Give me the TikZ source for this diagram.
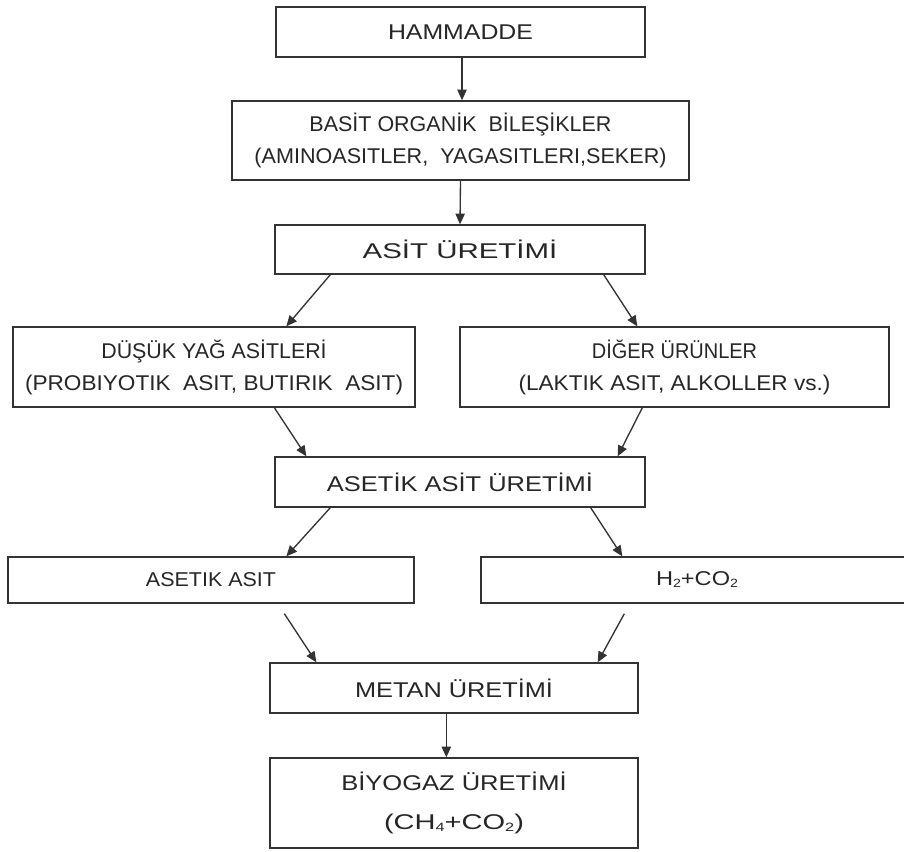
\documentclass[tikz,border=0pt]{standalone}
\usepackage{fontspec}
\setmainfont{Liberation Sans}
\usepackage{graphicx}
\usetikzlibrary{arrows.meta,calc}
\newcommand\fw[2]{\resizebox{#1}{\height}{#2}}
\newcommand\sub[1]{\raisebox{-1.5pt}{\fontsize{9}{9}\selectfont #1}}
\definecolor{edge}{HTML}{333333}
\definecolor{ink}{HTML}{262626}
\tikzset{
  box/.style={draw=edge, line width=1pt, inner sep=0pt, align=center, text=ink,
              font=\fontsize{16}{24}\selectfont},
  arr/.style={draw=edge, line width=1pt, -{Triangle[length=8pt,width=7pt]}},
}
\begin{document}
\begin{tikzpicture}[x=0.75pt,y=-0.75pt]
\useasboundingbox (0,0) rectangle (904,852);
\fill[white] (0,0) rectangle (904,852);
\clip (0,0) rectangle (904,852);

\node[box, minimum width=276.75pt, minimum height=37.5pt] (ham) at (460.5,32)
  {\fw{108.75pt}{HAMMADDE}};
\node[box, minimum width=342.75pt, minimum height=59.25pt] (bas) at (460.5,140.5)
  {\fw{226.5pt}{BASİT ORGANİK\ \ BİLEŞİKLER}\\\fw{309pt}{(AMINOASITLER,\ \ YAGASITLERI,SEKER)}};
\node[box, minimum width=277.5pt, minimum height=36.75pt] (asit) at (460,249.5)
  {\fw{146pt}{ASİT ÜRETİMİ}};
\node[box, minimum width=301.5pt, minimum height=60pt] (dus) at (214,367)
  {\fw{169pt}{DÜŞÜK YAĞ ASİTLERİ}\\\fw{283.5pt}{(PROBIYOTIK\ \ ASIT, BUTIRIK\ \ ASIT)}};
\node[box, minimum width=321.75pt, minimum height=60pt] (dig) at (674.5,367)
  {\fw{124pt}{DİĞER ÜRÜNLER}\\\fw{234pt}{(LAKTIK ASIT, ALKOLLER vs.)}};
\node[box, minimum width=277.5pt, minimum height=37.5pt] (aset) at (460,482)
  {\fw{199.5pt}{ASETİK ASİT ÜRETİMİ}};
\node[box, minimum width=304.5pt, minimum height=34.5pt, font=\fontsize{15}{20}\selectfont] (aa) at (211,580)
  {\fw{97.5pt}{ASETIK ASIT}};
\node[box, minimum width=324pt, minimum height=34.5pt, font=\fontsize{15}{20}\selectfont] (h2) at (697,580)
  {\fw{61.5pt}{H\sub{2}+CO\sub{2}}};
\node[box, minimum width=276pt, minimum height=37.5pt] (metan) at (454,688)
  {\fw{148.5pt}{METAN ÜRETİMİ}};
\node[box, minimum width=276pt, minimum height=67.5pt, font=\fontsize{16}{29}\selectfont] (biy) at (454,803)
  {\fw{169pt}{BİYOGAZ ÜRETİMİ}\\\fw{105pt}{(CH\sub{4}+CO\sub{2})}};

\draw[arr] ($(ham.south)+(1.5,0)$) -- ($(bas.north)+(1.5,0)$);
\draw[arr] (bas.south) -- (asit.north);
\draw[arr] ($(asit.south west)+(56,0)$) -- ($(dus.north west)+(274,0)$);
\draw[arr] ($(asit.south east)+(-42,0)$) -- ($(dig.north west)+(178,0)$);
\draw[arr] ($(dus.south west)+(262,0)$) -- ($(aset.north west)+(32,0)$);
\draw[arr] ($(dig.south west)+(183,0)$) -- ($(aset.north east)+(-28,0)$);
\draw[arr] ($(aset.south west)+(56,0)$) -- ($(aa.north west)+(279,0)$);
\draw[arr] ($(aset.south east)+(-55,0)$) -- ($(h2.north west)+(142,0)$);
\draw[arr] ($(aa.south west)+(277,10)$) -- ($(metan.north west)+(47,0)$);
\draw[arr] ($(h2.south west)+(144,10)$) -- ($(metan.north east)+(-41,0)$);
\draw[arr] ($(metan.south west)+(177,0)$) -- ($(biy.north west)+(177,0)$);
\end{tikzpicture}
\end{document}
